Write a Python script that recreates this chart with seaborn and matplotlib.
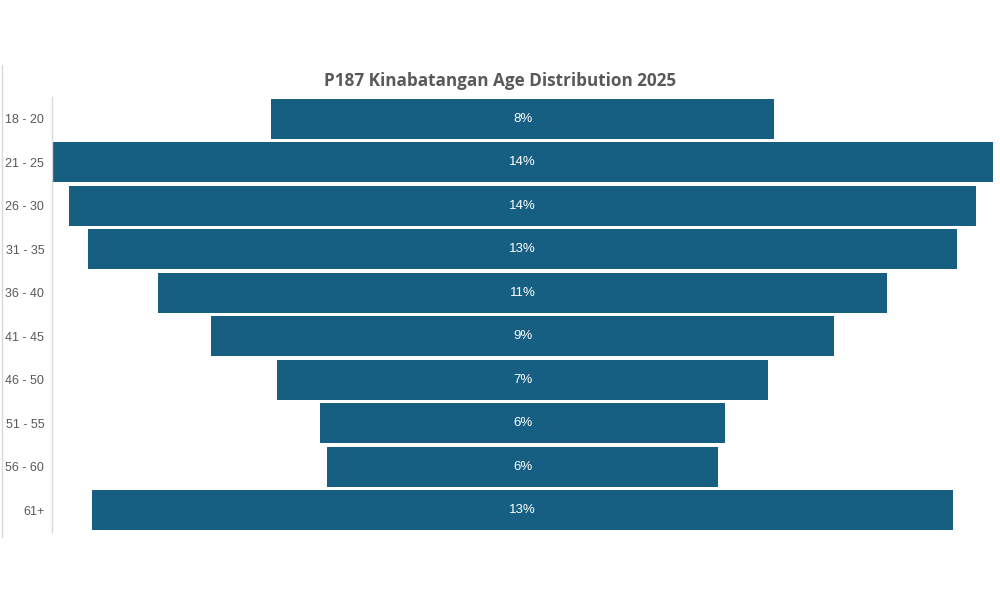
import matplotlib
matplotlib.use("Agg")
import matplotlib.pyplot as plt
import seaborn as sns
import pandas as pd
import numpy as np
from matplotlib.lines import Line2D

age_groups = ["18 - 20", "21 - 25", "26 - 30", "31 - 35", "36 - 40",
              "41 - 45", "46 - 50", "51 - 55", "56 - 60", "61+"]
shares = [7.6, 14.2, 13.7, 13.1, 11.0, 9.4, 7.4, 6.1, 5.9, 13.0]
title = "P187 Kinabatangan Age Distribution 2025"

sns.set_theme(style="white")
plt.rcParams['font.family'] = ['Liberation Sans', 'DejaVu Sans']

df = pd.DataFrame({"age": age_groups, "share": shares})
df["half"] = df["share"] / 2
df["neg_half"] = -df["share"] / 2

fig = plt.figure(figsize=(10, 6), dpi=100)
ax = fig.add_axes([0.052, 1 - 532 / 600, 0.993 - 0.052, (532 - 97) / 600])

bar_color = "#175f82"
sns.barplot(data=df, y="age", x="half", color=bar_color, saturation=1,
            width=0.92, linewidth=0, ax=ax, orient="h")
sns.barplot(data=df, y="age", x="neg_half", color=bar_color, saturation=1,
            width=0.92, linewidth=0, ax=ax, orient="h")

m = max(shares) / 2
ax.set_xlim(-m, m)
ax.set_xlabel("")
ax.set_ylabel("")
ax.set_xticks([])
for i, v in enumerate(shares):
    ax.text(0, i, f"{v:.0f}%", ha="center", va="center", color="white",
            fontsize=9.5)

for s in ["top", "right", "bottom"]:
    ax.spines[s].set_visible(False)
ax.spines["left"].set_color("#d9d9d9")
ax.spines["left"].set_linewidth(1)
ax.tick_params(axis="y", length=0, pad=5.5, labelsize=9, labelcolor="#595959")

fig.text(0.5, 1 - 81 / 600, title, ha="center", va="center",
         fontsize=12.3, fontweight="bold", color="#595959",
         family=["Open Sans", "DejaVu Sans"])

fig.add_artist(Line2D([0.0015, 0.0015], [1 - 537 / 600, 1 - 65 / 600],
                      color="#d9d9d9", linewidth=1))

fig.savefig("out.png", dpi=100, facecolor="white")
